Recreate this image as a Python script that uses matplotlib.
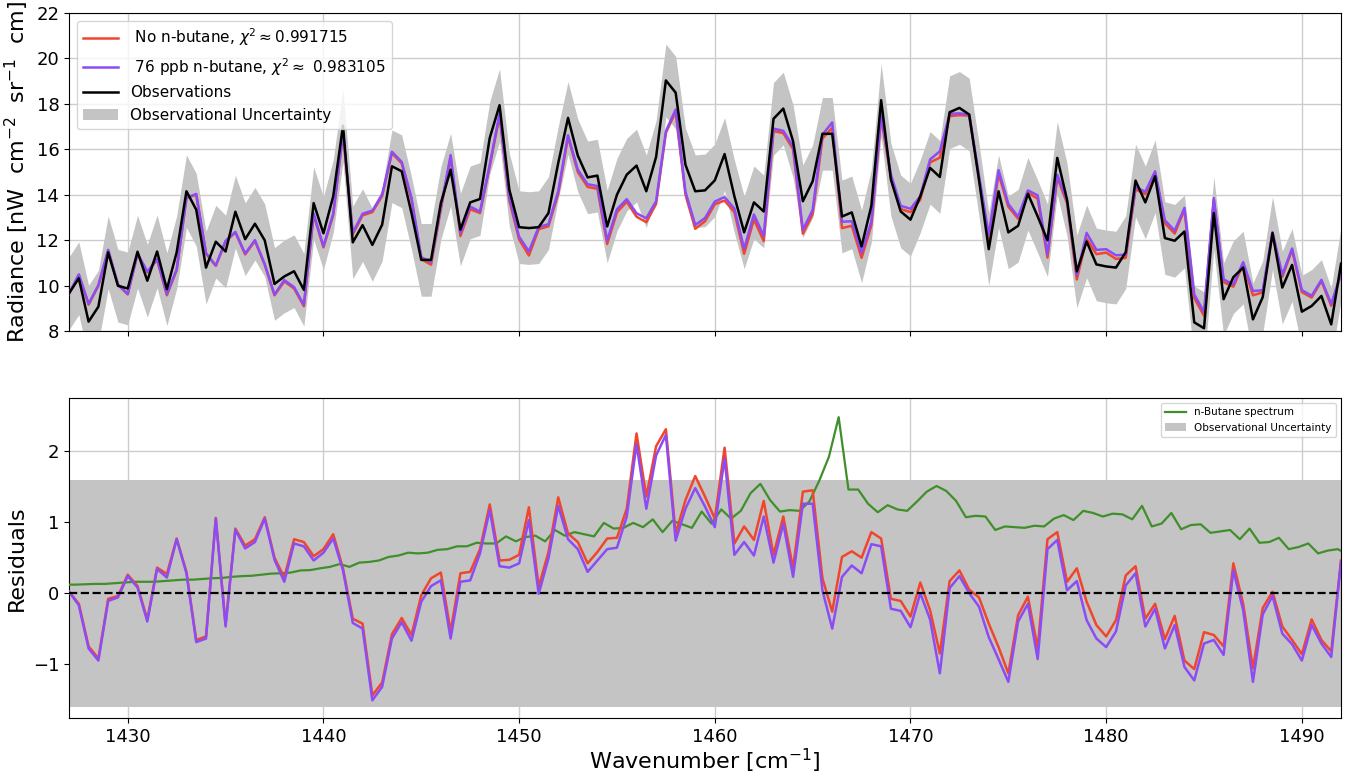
import numpy as np
import matplotlib
matplotlib.use("Agg")
import matplotlib.pyplot as plt

# wavenumber grid of the observations (cm^-1)
wn_start = 1427.0
wn_step = 0.5

obs = [9.66, 10.32, 8.41, 9.07, 11.46, 9.99, 9.87, 11.49, 10.21, 11.5,
       9.84, 11.46, 14.15, 13.34, 10.79, 11.93, 11.5, 13.25, 12.04, 12.72,
       11.99, 10.07, 10.4, 10.63, 9.81, 13.63, 12.3, 13.93, 17.04, 11.9,
       12.66, 11.79, 12.68, 15.25, 15.03, 13.19, 11.13, 11.13, 13.63, 15.1,
       12.46, 13.66, 13.81, 16.5, 17.94, 14.22, 12.57, 12.53, 12.57, 13.19,
       15.4, 17.38, 15.72, 14.76, 14.84, 12.6, 14.0, 14.88, 15.28, 14.15,
       15.66, 19.03, 18.49, 15.32, 14.15, 14.19, 14.63, 15.79, 13.93, 12.34,
       13.66, 13.26, 17.34, 17.79, 16.35, 13.71, 14.59, 16.68, 16.68, 13.04,
       13.22, 11.72, 13.51, 18.16, 14.66, 13.26, 12.9, 13.93, 15.18, 14.78,
       17.63, 17.82, 17.53, 14.66, 11.6, 14.15, 12.34, 12.63, 14.04, 13.04,
       11.99, 15.62, 13.78, 10.62, 11.94, 10.93, 10.84, 10.79, 11.47, 14.62,
       13.66, 14.81, 12.09, 11.97, 12.38, 8.38, 8.12, 13.19, 9.4, 10.37,
       10.79, 8.51, 9.49, 12.31, 9.91, 10.91, 8.85, 9.1, 9.54, 8.29, 10.96]

obs_err = 1.6

# residuals (observation - model)
resid_none = [0.02, -0.15, -0.75, -0.92, -0.08, -0.04, 0.26, 0.1, -0.37, 0.36,
              0.27, 0.77, 0.3, -0.66, -0.61, 1.06, -0.44, 0.91, 0.67, 0.76,
              1.07, 0.5, 0.22, 0.76, 0.72, 0.52, 0.62, 0.83, 0.35, -0.36,
              -0.43, -1.44, -1.26, -0.58, -0.35, -0.59, -0.03, 0.21, 0.29, -0.54,
              0.28, 0.3, 0.62, 1.25, 0.46, 0.47, 0.54, 1.21, 0.09, 0.58,
              1.35, 0.84, 0.72, 0.42, 0.58, 0.77, 0.78, 1.19, 2.25, 1.36,
              2.07, 2.31, 0.84, 1.31, 1.65, 1.36, 1.05, 2.05, 0.7, 0.94,
              0.75, 1.3, 0.54, 1.08, 0.35, 1.43, 1.45, 0.21, -0.26, 0.51,
              0.59, 0.5, 0.86, 0.77, -0.08, -0.11, -0.33, 0.15, -0.24, -0.85,
              0.17, 0.32, 0.05, -0.06, -0.43, -0.76, -1.13, -0.31, -0.05, -0.78,
              0.76, 0.86, 0.16, 0.35, -0.12, -0.45, -0.61, -0.38, 0.25, 0.38,
              -0.36, -0.15, -0.65, -0.32, -0.95, -1.07, -0.55, -0.59, -0.75, 0.42,
              -0.15, -1.06, -0.21, 0.02, -0.47, -0.66, -0.86, -0.37, -0.66, -0.82, 0.46]

resid_76 = [0.02, -0.17, -0.78, -0.95, -0.11, -0.06, 0.24, 0.08, -0.4, 0.34,
            0.22, 0.76, 0.28, -0.69, -0.64, 1.05, -0.47, 0.89, 0.63, 0.72,
            1.05, 0.47, 0.16, 0.7, 0.66, 0.46, 0.57, 0.77, 0.32, -0.42,
            -0.5, -1.51, -1.32, -0.64, -0.41, -0.67, -0.12, 0.1, 0.18, -0.64,
            0.16, 0.18, 0.56, 1.17, 0.38, 0.36, 0.42, 1.03, -0.01, 0.49,
            1.23, 0.76, 0.62, 0.3, 0.46, 0.62, 0.64, 1.08, 2.1, 1.19,
            1.94, 2.23, 0.74, 1.19, 1.48, 1.22, 0.93, 1.9, 0.54, 0.72,
            0.53, 1.08, 0.43, 0.98, 0.23, 1.26, 1.26, 0.04, -0.5, 0.23,
            0.39, 0.28, 0.69, 0.66, -0.22, -0.25, -0.48, 0.0, -0.37, -1.13,
            0.07, 0.24, 0.0, -0.19, -0.62, -0.93, -1.25, -0.4, -0.15, -0.93,
            0.62, 0.75, 0.04, 0.17, -0.38, -0.64, -0.76, -0.54, 0.11, 0.28,
            -0.47, -0.22, -0.78, -0.45, -1.04, -1.23, -0.71, -0.66, -0.87, 0.32,
            -0.24, -1.25, -0.3, -0.04, -0.57, -0.72, -0.95, -0.45, -0.71, -0.9, 0.44]

# n-butane spectrum sits on its own (slightly shifted) grid
butane_start = 1426.83
butane = [0.12, 0.12, 0.125, 0.13, 0.13, 0.14, 0.15, 0.16, 0.16, 0.16,
          0.17, 0.18, 0.19, 0.19, 0.2, 0.21, 0.215, 0.23, 0.24, 0.245,
          0.26, 0.275, 0.28, 0.29, 0.32, 0.325, 0.35, 0.37, 0.41, 0.37,
          0.43, 0.44, 0.46, 0.51, 0.53, 0.57, 0.56, 0.57, 0.61, 0.62,
          0.66, 0.66, 0.71, 0.7, 0.7, 0.8, 0.73, 0.79, 0.81, 0.73,
          0.89, 0.81, 0.86, 0.83, 0.8, 0.99, 0.91, 0.92, 0.99, 0.93,
          1.04, 0.86, 1.02, 0.97, 0.92, 1.15, 0.98, 1.18, 1.05, 1.16,
          1.41, 1.54, 1.31, 1.15, 1.17, 1.16, 1.29, 1.58, 1.92, 2.48,
          1.46, 1.46, 1.26, 1.14, 1.24, 1.18, 1.16, 1.29, 1.43, 1.51,
          1.44, 1.3, 1.07, 1.09, 1.08, 0.89, 0.94, 0.93, 0.92, 0.95,
          0.94, 1.05, 1.1, 1.03, 1.16, 1.13, 1.08, 1.12, 1.11, 1.04,
          1.23, 0.94, 0.98, 1.13, 0.9, 0.96, 0.97, 0.85, 0.87, 0.89,
          0.76, 0.91, 0.71, 0.72, 0.78, 0.62, 0.65, 0.7, 0.56, 0.6,
          0.62, 0.55]

label_none = r' No n-butane, $\chi^2 \approx 0.991715$'
label_76 = r' 76 ppb n-butane, $\chi^2 \approx$ 0.983105'

obs = np.array(obs)
wn = wn_start + wn_step * np.arange(len(obs))
wn_b = butane_start + wn_step * np.arange(len(butane))
model_none = obs - np.array(resid_none)
model_76 = obs - np.array(resid_76)

c_red = '#f0462d'
c_purple = '#8c4cf5'
c_green = '#3f8f2a'
c_band = '#c4c4c4'

fig = plt.figure(figsize=(13.51, 7.76), dpi=100)
ax1 = fig.add_axes([0.0511, 0.5735, 0.9415, 0.4098])
ax2 = fig.add_axes([0.0511, 0.0747, 0.9415, 0.4124], sharex=ax1)

# --- top panel: spectra ---
band1 = ax1.fill_between(wn, obs - obs_err, obs + obs_err, color=c_band, lw=0,
                         label='Observational Uncertainty', zorder=1)
l_none, = ax1.plot(wn, model_none, color=c_red, lw=1.8, label=label_none, zorder=3)
l_76, = ax1.plot(wn, model_76, color=c_purple, lw=1.8, label=label_76, zorder=4)
l_obs, = ax1.plot(wn, obs, color='black', lw=1.8, label='Observations', zorder=5)
ax1.set_ylim(8, 22)
ax1.set_yticks(np.arange(8, 23, 2))
ax1.set_ylabel('Radiance [nW  cm$^{-2}$  sr$^{-1}$  cm]', fontsize=16)
ax1.grid(True, color='#cccccc', lw=1)
ax1.set_axisbelow(True)
ax1.tick_params(labelbottom=False, labelsize=13)
ax1.legend(handles=[l_none, l_76, l_obs, band1], loc='upper left',
           fontsize=11, handlelength=2.3)

# --- bottom panel: residuals ---
band2 = ax2.fill_between(wn, -obs_err, obs_err, color=c_band, lw=0,
                         label='Observational Uncertainty', zorder=1)
l_but, = ax2.plot(wn_b, butane, color=c_green, lw=1.6, label='n-Butane spectrum', zorder=3)
ax2.plot(wn, resid_none, color=c_red, lw=1.8, zorder=4)
ax2.plot(wn, resid_76, color=c_purple, lw=1.8, zorder=5)
ax2.axhline(0, color='black', ls='--', lw=1.6, zorder=6)
ax2.set_ylim(-1.76, 2.75)
ax2.set_yticks([-1, 0, 1, 2])
ax2.set_ylabel('Residuals', fontsize=16)
ax2.set_xlabel('Wavenumber [cm$^{-1}$]', fontsize=16, labelpad=1)
ax2.grid(True, color='#cccccc', lw=1)
ax2.set_axisbelow(True)
ax2.tick_params(labelsize=13)
ax2.legend(handles=[l_but, band2], loc='upper right', fontsize=7.5)

ax1.set_xlim(1427, 1492)
ax1.set_xticks(np.arange(1430, 1491, 10))

fig.savefig('out.png', dpi=100)
